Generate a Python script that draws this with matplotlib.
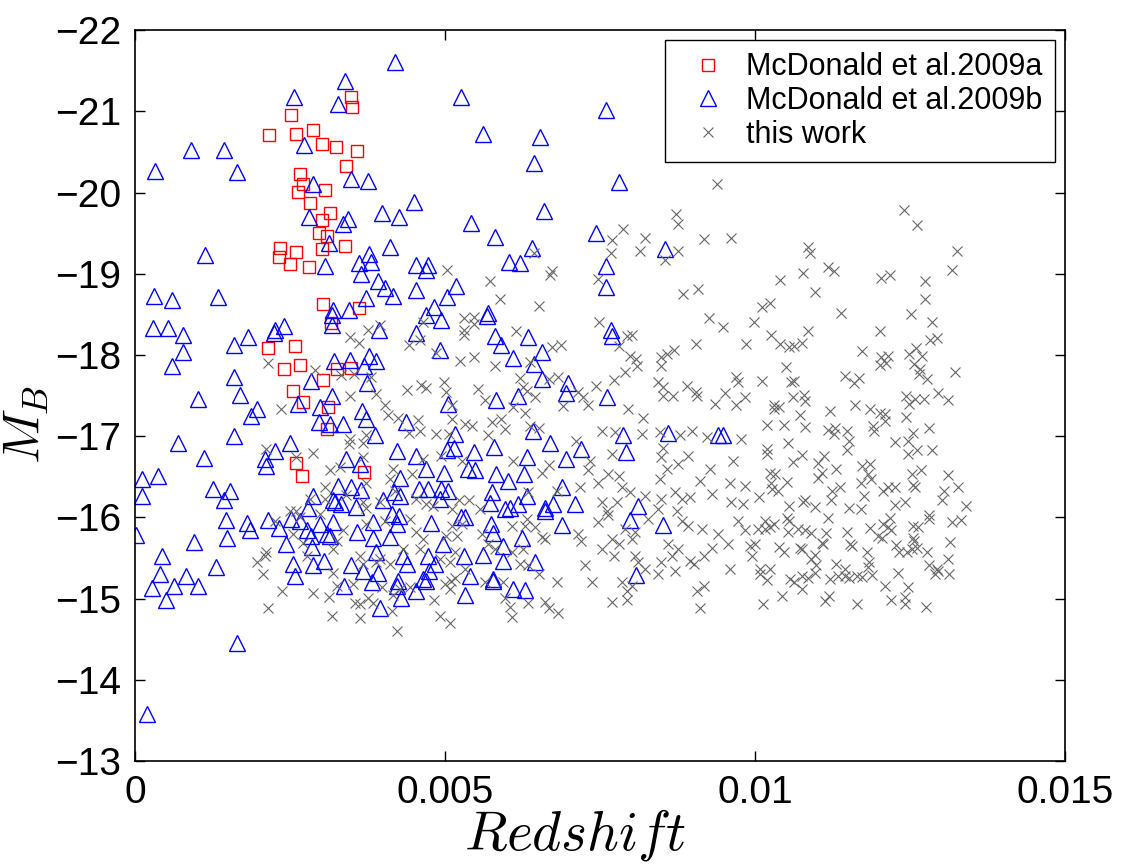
import numpy as np
import matplotlib
matplotlib.use("Agg")
import matplotlib.pyplot as plt

plt.rcParams['font.family'] = ['Liberation Sans', 'DejaVu Sans']
plt.rcParams['mathtext.fontset'] = 'cm'

# McDonald et al. 2009a (redshift in units of 1e-3, M_B)
sq_z = [3.49, 3.50, 2.52, 2.16, 2.60, 2.87, 3.02, 3.24, 3.58, 3.41, 2.66, 2.71, 2.63, 3.06,
        2.83, 3.14, 3.02, 2.96, 3.10, 2.34, 2.33, 2.59, 2.50, 2.80, 3.01, 3.39, 3.04, 3.61,
        3.16, 2.15, 2.58, 2.41, 2.66, 3.25, 3.49, 3.04, 2.55, 2.71, 3.11, 3.09, 2.60, 2.70, 3.70]
sq_m = [-21.18, -21.05, -20.95, -20.71, -20.72, -20.77, -20.60, -20.56, -20.51, -20.33, -20.23,
        -20.10, -20.01, -20.03, -19.87, -19.75, -19.66, -19.50, -19.46, -19.32, -19.21, -19.27,
        -19.12, -19.08, -19.30, -19.34, -18.63, -18.58, -18.39, -18.08, -18.11, -17.83, -17.88,
        -17.83, -17.84, -17.69, -17.56, -17.42, -17.36, -17.09, -16.67, -16.51, -16.56]

# McDonald et al. 2009b
tri = [(4.20, -21.61), (3.39, -21.37), (2.57, -21.17), (3.27, -21.09), (0.91, -20.52), (1.44, -20.52),
       (0.33, -20.26), (1.65, -20.25), (2.72, -20.59), (2.87, -20.10), (3.48, -20.17), (3.76, -20.14),
       (4.50, -19.88), (3.99, -19.75), (4.25, -19.70), (2.80, -19.70), (3.44, -19.67),
       (5.25, -21.18), (7.60, -21.01), (5.62, -20.72), (6.53, -20.68), (6.44, -20.36), (7.80, -20.13),
       (6.60, -19.77),
       (3.35, -19.61), (1.13, -19.23), (3.13, -19.38), (3.06, -19.10), (3.77, -19.24), (4.11, -19.33),
       (3.62, -19.13), (3.80, -19.15), (3.64, -19.00), (4.53, -19.11), (4.72, -19.11), (4.69, -19.04),
       (3.92, -18.91), (4.04, -18.83), (4.54, -18.80), (4.16, -18.72), (3.73, -18.70), (5.04, -18.71),
       (0.31, -18.72), (0.60, -18.68), (1.34, -18.71), (3.19, -18.55), (3.18, -18.49), (3.45, -18.55),
       (4.82, -18.59), (4.70, -18.49), (4.94, -18.43), (3.17, -18.37), (0.29, -18.33), (0.54, -18.33),
       (0.77, -18.24), (2.41, -18.36), (2.25, -18.31), (2.24, -18.27), (1.83, -18.22), (1.59, -18.12),
       (3.93, -18.31), (4.54, -18.27), (0.78, -18.04), (4.92, -18.06), (0.60, -17.87), (3.21, -17.93),
       (3.47, -17.94), (3.78, -17.99), (3.88, -17.93), (3.70, -17.87), (1.59, -17.73), (2.84, -17.68),
       (3.74, -17.66), (3.17, -17.50), (1.69, -17.51), (1.02, -17.46),
       (5.42, -19.62), (5.81, -19.45), (7.44, -19.50), (6.41, -19.32), (6.03, -19.15), (6.21, -19.13),
       (8.55, -19.30), (7.60, -19.09), (5.18, -18.85), (7.60, -18.84), (5.69, -18.52), (5.67, -18.48),
       (7.67, -18.31), (7.70, -18.23), (5.81, -18.23), (5.91, -18.12), (6.34, -18.22), (6.57, -18.04),
       (6.10, -17.96), (6.44, -17.89), (6.56, -17.71), (6.99, -17.66), (6.95, -17.53), (6.17, -17.50),
       (5.82, -17.45), (7.61, -17.48),
       (1.87, -17.25), (1.96, -17.34), (2.63, -17.40), (2.98, -17.36), (2.97, -17.18), (3.15, -17.15),
       (3.36, -17.15), (3.66, -17.31), (3.72, -17.21), (4.37, -17.18), (5.05, -17.40), (0.70, -16.92),
       (1.60, -17.00), (2.50, -16.92), (2.25, -16.82), (1.12, -16.73), (2.10, -16.72), (2.12, -16.63),
       (3.87, -17.01), (4.23, -16.82), (4.53, -16.76), (3.40, -16.72), (3.63, -16.66), (4.70, -16.60),
       (4.99, -16.55), (4.27, -16.49), (0.12, -16.47), (0.37, -16.51), (0.12, -16.26), (1.25, -16.35),
       (1.54, -16.33), (1.44, -16.22), (2.87, -16.26), (3.28, -16.39), (3.49, -16.37), (3.64, -16.34),
       (3.20, -16.22), (3.33, -16.17), (3.22, -16.19), (2.79, -16.12), (3.57, -16.13), (4.00, -16.21),
       (4.18, -16.31), (4.27, -16.27), (4.58, -16.35), (4.73, -16.35), (4.93, -16.35), (5.05, -16.33),
       (4.92, -16.23), (4.15, -16.04), (4.26, -16.02), (4.23, -15.92), (3.84, -15.94), (4.78, -15.93),
       (1.46, -15.97), (1.80, -15.93), (1.86, -15.85), (2.15, -15.97), (2.32, -15.87), (2.52, -15.98),
       (2.66, -15.96), (2.98, -15.92), (3.20, -15.94), (2.78, -15.85), (2.84, -15.77), (3.10, -15.80),
       (3.15, -15.77), (3.58, -15.82), (3.84, -15.75), (4.12, -15.76), (0.02, -15.78), (0.95, -15.70),
       (1.49, -15.75), (2.44, -15.67), (2.85, -15.64), (3.88, -15.58), (4.33, -15.53), (4.73, -15.53),
       (4.97, -15.67), (0.44, -15.53), (2.55, -15.43), (2.87, -15.41), (3.05, -15.47), (3.48, -15.41),
       (3.68, -15.34), (3.92, -15.32), (4.38, -15.43), (4.84, -15.43), (4.74, -15.34), (1.31, -15.39),
       (0.40, -15.30), (0.83, -15.28), (2.58, -15.28), (4.24, -15.22), (4.65, -15.24),
       (5.16, -17.03), (6.42, -17.06), (6.69, -16.92), (7.87, -17.02), (8.59, -17.04), (9.41, -17.01),
       (9.49, -17.01), (5.15, -16.86), (5.03, -16.83), (5.47, -16.81), (5.79, -16.87), (7.19, -16.84),
       (6.95, -16.72), (6.32, -16.74), (7.92, -16.80), (5.37, -16.60), (5.49, -16.59), (5.82, -16.54),
       (6.27, -16.53), (6.02, -16.45), (5.75, -16.31), (6.89, -16.38), (6.32, -16.26), (5.73, -16.18),
       (5.97, -16.10), (6.05, -16.12), (6.18, -16.16), (6.61, -16.12), (6.74, -16.16), (7.09, -16.17),
       (6.61, -16.08), (8.11, -16.14), (5.26, -16.01), (5.33, -16.01), (7.98, -15.97), (8.51, -15.91),
       (6.89, -15.91), (5.74, -15.92), (5.78, -15.81), (6.24, -15.75), (5.94, -15.65), (5.31, -15.53),
       (5.61, -15.54), (5.94, -15.47), (6.45, -15.45), (5.40, -15.28), (5.78, -15.24), (8.08, -15.29),
       (0.28, -15.13), (0.63, -15.16), (1.02, -15.16), (0.50, -14.98), (1.64, -14.46), (0.19, -13.58),
       (3.37, -15.16), (3.82, -15.20), (3.95, -14.88), (4.23, -15.16), (4.29, -15.01), (4.54, -15.09),
       (4.69, -15.22), (5.33, -15.05), (5.77, -15.22), (6.09, -15.12), (6.29, -15.11)]
tri_z = [p[0] for p in tri]
tri_m = [p[1] for p in tri]

# this work
cross = [(9.39, -20.10), (8.72, -19.73), (12.40, -19.78),
         (5.03, -19.04), (3.95, -18.37), (3.76, -18.31), (3.47, -18.22), (3.61, -18.15), (4.42, -18.12),
         (4.59, -18.18), (4.65, -18.41), (4.86, -18.02), (2.15, -17.90), (2.90, -17.81), (3.33, -17.75),
         (3.54, -17.77), (3.81, -17.73), (3.47, -17.50), (3.88, -17.52), (4.38, -17.57), (4.62, -17.63),
         (4.70, -17.59), (4.98, -17.67), (5.02, -17.55),
         (8.75, -19.61), (7.87, -19.55), (7.70, -19.42), (8.22, -19.44), (7.67, -19.26), (8.15, -19.28),
         (8.76, -19.28), (8.55, -19.17), (9.18, -19.43), (9.62, -19.44), (6.44, -19.25), (6.72, -19.03),
         (6.70, -18.99), (7.47, -18.94), (5.73, -18.91), (5.88, -18.69), (6.51, -18.60), (8.84, -18.75),
         (9.08, -18.81), (10.11, -18.59), (9.25, -18.45), (9.48, -18.34), (9.98, -18.41), (7.48, -18.40),
         (8.01, -18.24), (7.93, -18.23), (7.80, -18.11), (5.30, -18.45), (5.47, -18.47), (5.30, -18.31),
         (5.46, -18.38), (5.30, -18.24), (6.15, -18.30), (6.72, -18.10), (6.87, -18.12), (9.05, -18.14),
         (9.85, -18.13), (5.24, -17.92), (5.47, -17.97), (5.81, -17.87), (6.37, -17.91), (7.98, -17.99),
         (8.08, -17.95), (8.09, -17.86), (7.90, -17.79), (8.49, -17.97), (8.58, -18.01), (8.70, -18.06),
         (8.49, -17.87), (7.73, -17.69), (7.43, -17.62), (8.44, -17.67), (8.52, -17.61), (8.90, -17.62),
         (9.04, -17.54), (9.52, -17.53), (9.69, -17.73), (9.72, -17.67), (10.11, -17.68), (9.84, -17.48),
         (5.53, -17.58), (6.21, -17.72), (6.25, -17.61), (6.32, -17.56), (6.68, -17.71), (6.83, -17.73),
         (7.15, -17.54), (7.23, -17.48), (8.52, -17.50), (8.68, -17.50), (9.06, -17.50),
         (12.62, -19.60), (10.86, -19.33), (10.88, -19.25), (10.77, -19.01), (10.40, -18.92), (11.17, -19.08),
         (11.28, -19.03), (10.96, -18.77), (12.03, -18.95), (12.18, -18.99), (12.74, -18.91), (13.25, -19.28),
         (13.17, -19.05), (12.74, -18.69), (10.24, -18.64), (11.39, -18.52), (12.51, -18.51), (12.86, -18.40),
         (10.26, -18.25), (10.86, -18.29), (12.01, -18.29), (10.40, -18.13), (10.54, -18.10), (10.63, -18.11),
         (10.75, -18.15), (12.82, -18.18), (12.93, -18.21), (11.73, -18.05), (12.03, -17.97), (12.14, -17.99),
         (12.01, -17.88), (12.11, -17.90), (12.48, -18.01), (12.60, -18.08), (12.69, -17.99), (12.57, -17.89),
         (12.66, -17.83), (12.65, -17.76), (12.78, -17.71), (13.23, -17.79), (10.50, -17.85), (10.58, -17.67),
         (10.63, -17.68), (11.45, -17.74), (11.59, -17.66), (11.67, -17.72), (10.61, -17.48), (10.79, -17.51),
         (12.43, -17.49), (12.58, -17.46), (12.73, -17.46), (12.95, -17.53), (13.12, -17.45),
         (2.36, -17.34), (4.03, -17.38), (4.08, -17.26), (4.24, -17.23), (4.57, -17.20), (4.42, -17.04),
         (4.60, -17.07), (4.86, -17.03), (5.07, -17.03), (3.46, -16.97), (3.45, -16.90), (3.68, -16.92),
         (3.73, -17.01), (2.12, -16.84), (2.60, -16.74), (2.87, -16.79), (3.14, -16.58), (3.30, -16.62),
         (3.68, -16.75), (4.16, -16.60), (4.11, -16.47), (4.46, -16.53), (4.65, -16.72), (4.94, -16.76),
         (3.73, -16.43), (3.06, -16.38), (2.82, -16.23), (3.06, -16.23), (3.41, -16.28), (3.68, -16.19),
         (3.73, -16.12), (3.95, -16.19), (4.19, -16.33), (4.54, -16.23), (4.70, -16.17), (4.81, -16.14),
         (2.50, -16.08), (2.60, -16.08), (2.66, -16.00), (2.25, -15.96), (2.98, -16.04), (3.36, -15.84),
         (3.25, -15.71), (3.73, -15.92), (4.03, -15.96), (4.43, -15.98), (4.54, -15.82), (4.65, -15.73),
         (5.02, -15.77), (2.55, -15.80), (2.71, -15.69), (2.12, -15.57), (2.09, -15.53), (1.96, -15.45),
         (2.07, -15.30), (2.77, -15.53), (3.20, -15.61), (3.63, -15.53), (3.68, -15.43), (3.89, -15.45),
         (3.95, -15.49), (4.11, -15.43), (4.32, -15.61), (4.59, -15.61), (4.92, -15.49), (5.08, -15.45),
         (3.20, -15.32),
         (5.11, -17.38), (5.65, -17.44), (6.10, -17.36), (6.29, -17.29), (6.45, -17.48), (6.91, -17.37),
         (7.31, -17.38), (7.95, -17.33), (8.20, -17.22), (9.35, -17.40), (9.70, -17.38),
         (5.32, -17.15), (5.43, -17.13), (5.75, -17.17), (5.91, -17.21), (5.97, -17.09), (6.37, -17.13),
         (6.51, -17.10), (5.11, -17.21), (5.70, -17.01), (7.53, -17.07), (7.74, -17.05), (8.17, -17.03),
         (8.47, -17.05), (8.79, -17.01), (8.98, -17.07), (9.22, -16.99), (9.78, -16.97),
         (5.27, -16.70), (6.10, -16.70), (6.56, -16.55), (6.67, -16.64), (7.12, -16.94), (7.34, -16.70),
         (7.31, -16.58), (7.69, -16.78), (7.63, -16.53), (7.80, -16.51), (8.52, -16.86), (8.49, -16.74),
         (8.92, -16.76), (8.58, -16.60), (8.76, -16.66), (9.11, -16.45), (9.27, -16.60), (9.65, -16.70),
         (9.60, -16.43), (9.84, -16.39), (8.47, -16.47),
         (5.22, -16.21), (5.39, -16.22), (5.56, -16.10), (5.11, -16.10), (6.34, -16.31), (6.80, -16.33),
         (7.18, -16.37), (7.47, -16.43), (7.85, -16.37), (7.98, -16.31), (8.23, -16.27), (7.53, -16.19),
         (7.78, -16.19), (7.61, -16.08), (7.63, -16.03), (8.49, -16.23), (8.71, -16.31), (8.82, -16.23),
         (8.95, -16.25), (9.30, -16.29), (9.62, -16.19), (9.81, -16.16),
         (5.11, -15.90), (5.27, -15.92), (5.19, -15.77), (5.59, -15.80), (6.08, -15.90), (6.32, -15.98),
         (6.29, -15.90), (6.45, -15.88), (6.56, -15.76), (6.61, -15.73), (7.15, -15.80), (7.20, -15.71),
         (7.47, -15.94), (7.69, -15.73), (7.90, -15.86), (8.01, -15.73), (8.06, -15.82), (8.28, -15.98),
         (8.44, -16.10), (8.74, -16.08), (8.82, -15.96), (8.92, -15.90), (9.14, -15.86), (9.41, -15.80),
         (9.73, -15.96), (9.84, -15.84), (10.05, -15.86), (10.16, -15.86),
         (5.16, -15.57), (5.32, -15.36), (5.70, -15.67), (5.81, -15.61), (6.08, -15.57), (6.26, -15.61),
         (6.34, -15.41), (6.51, -15.30), (6.21, -15.43), (7.26, -15.41), (7.53, -15.61), (7.72, -15.53),
         (7.80, -15.67), (8.06, -15.53), (8.23, -15.36), (8.49, -15.45), (8.60, -15.67), (8.66, -15.53),
         (8.76, -15.61), (8.95, -15.47), (9.01, -15.43), (9.17, -15.53), (9.30, -15.63), (9.57, -15.67),
         (9.60, -15.36), (9.92, -15.65), (9.95, -15.53), (10.08, -15.36), (8.44, -15.30), (8.71, -15.34),
         (8.12, -15.45),
         (10.80, -17.43), (10.30, -17.38), (10.38, -17.36), (10.30, -17.33), (10.73, -17.26), (11.21, -17.31),
         (11.61, -17.38), (11.85, -17.33), (12.02, -17.29), (12.10, -17.27), (12.09, -17.19), (12.48, -17.40),
         (12.43, -17.24), (10.19, -17.14), (10.47, -17.14), (10.81, -17.11), (11.17, -17.08), (11.29, -17.10),
         (11.28, -17.03), (11.49, -17.06), (11.52, -16.94), (11.49, -16.83), (11.91, -17.13), (11.92, -17.07),
         (12.26, -16.93), (12.47, -16.94), (12.55, -17.04), (12.81, -17.10), (12.62, -16.83), (12.85, -16.83),
         (12.47, -16.78), (10.53, -16.92), (10.19, -16.84), (10.20, -16.78), (10.75, -16.77), (10.62, -16.68),
         (11.12, -16.76), (11.01, -16.67), (11.31, -16.60), (11.72, -16.63), (11.85, -16.66), (11.83, -16.53),
         (11.87, -16.47), (11.71, -16.42), (10.24, -16.55), (10.32, -16.53), (10.51, -16.44), (10.26, -16.43),
         (10.27, -16.35), (10.37, -16.33), (10.06, -16.25), (11.02, -16.49), (11.08, -16.55), (11.37, -16.38),
         (11.24, -16.32), (11.23, -16.21), (11.76, -16.27), (12.07, -16.33), (12.15, -16.37), (12.26, -16.37),
         (12.53, -16.53), (12.67, -16.59), (12.55, -16.40), (12.58, -16.38), (13.12, -16.52), (13.28, -16.37),
         (13.04, -16.32), (13.01, -16.22), (13.41, -16.14), (10.54, -16.14), (10.78, -16.19), (10.81, -16.21),
         (10.96, -16.13), (11.18, -15.99), (11.52, -16.12), (11.71, -16.10), (12.26, -16.15), (12.42, -16.19),
         (12.80, -16.03), (12.81, -15.98), (13.17, -15.95), (13.32, -15.97), (10.16, -15.96), (10.31, -15.92),
         (10.24, -15.88), (10.51, -15.99), (10.54, -15.96), (10.53, -15.82), (10.70, -15.86), (10.81, -15.85),
         (10.91, -15.81), (11.15, -15.81), (11.08, -15.69), (11.10, -15.67), (11.49, -15.82), (11.53, -15.67),
         (11.56, -15.65), (11.85, -15.87), (11.99, -15.77), (12.04, -15.75), (12.07, -15.92), (12.15, -15.88),
         (12.18, -15.99), (12.20, -15.85), (12.55, -15.90), (12.63, -15.88), (12.55, -15.75), (12.57, -15.71),
         (12.61, -15.63), (12.78, -15.58), (12.53, -15.61), (12.28, -15.66), (12.32, -15.57), (12.45, -15.57),
         (13.15, -15.70), (13.12, -15.49), (13.13, -15.31), (10.00, -15.67), (10.38, -15.64), (10.46, -15.57),
         (10.75, -15.61), (10.73, -15.63), (10.90, -15.49), (10.97, -15.54), (10.99, -15.41), (10.96, -15.32),
         (10.86, -15.26), (11.30, -15.43), (11.45, -15.36), (11.34, -15.28), (11.80, -15.57), (11.84, -15.45),
         (11.83, -15.39), (11.88, -15.29), (11.64, -15.28), (12.31, -15.32), (12.80, -15.41), (12.93, -15.36),
         (12.90, -15.30), (12.95, -15.34), (10.08, -15.30), (10.24, -15.36), (10.56, -15.24), (10.75, -15.28),
         (11.21, -15.24), (11.45, -15.28), (11.51, -15.26),
         (2.14, -14.89), (2.37, -15.10), (2.87, -15.07), (3.13, -15.02), (3.17, -14.79), (3.25, -15.16),
         (3.52, -15.18), (3.55, -14.95), (3.63, -14.93), (3.63, -14.76), (3.76, -15.01), (3.84, -14.95),
         (3.98, -15.14), (4.14, -14.85), (4.22, -14.60), (4.16, -15.05), (4.27, -15.12), (4.43, -15.14),
         (4.82, -14.98), (4.92, -14.79), (5.08, -14.70), (5.00, -15.18), (5.10, -15.22),
         (5.08, -15.12), (5.16, -15.26), (5.65, -15.21), (5.94, -15.21), (5.97, -15.01), (6.05, -14.90),
         (6.08, -14.77), (6.34, -14.95), (6.61, -14.96), (6.67, -14.89), (6.83, -14.83), (6.81, -15.21),
         (7.37, -15.21), (7.85, -15.21), (7.69, -14.96), (7.93, -15.09), (7.93, -14.98), (8.01, -15.16),
         (9.06, -15.10), (9.18, -15.16), (9.11, -14.89),
         (10.19, -15.23), (10.63, -15.20), (10.75, -15.12), (11.73, -15.27), (12.10, -15.16), (12.47, -15.14),
         (10.13, -14.94), (10.43, -15.03), (11.13, -14.97), (11.19, -15.03), (11.65, -14.93), (12.20, -14.99),
         (12.42, -15.02), (12.42, -14.93), (12.75, -14.90)]
cross_z = [p[0] for p in cross]
cross_m = [p[1] for p in cross]

labels = ['McDonald et al.2009a', 'McDonald et al.2009b', 'this work']
xticks = [0, 0.005, 0.01, 0.015]
xticklabels = ['0', '0.005', '0.01', '0.015']
yticks = list(range(-22, -12))

fig = plt.figure(figsize=(11.25, 8.65), dpi=100)
ax = fig.add_axes([0.12, 0.12, 0.8267, 0.8453])

ax.plot(np.array(sq_z) * 1e-3, sq_m, 's', ms=8, mfc='none', mec='red', mew=1.0, label=labels[0])
ax.plot(np.array(tri_z) * 1e-3, tri_m, '^', ms=11, mfc='none', mec='blue', mew=1.0, label=labels[1])
ax.plot(np.array(cross_z) * 1e-3, cross_m, 'x', ms=6.5, mec='#666666', mew=0.8, label=labels[2])

ax.set_xlim(0, 0.015)
ax.set_ylim(-13, -22)
ax.set_xticks(xticks)
ax.set_xticklabels(xticklabels)
ax.set_yticks(yticks)
ax.set_yticklabels(['\u2212%d' % abs(v) for v in yticks])
ax.tick_params(direction='in', length=7, width=1, top=True, right=True, labelsize=28)
ax.tick_params(axis='x', pad=10)
ax.tick_params(axis='y', pad=10)
for s in ax.spines.values():
    s.set_linewidth(1.2)

ax.set_xlabel('$Redshift$', fontsize=40)
ax.xaxis.set_label_coords(0.473, -0.062)
ax.set_ylabel('$M_B$', fontsize=37)
ax.yaxis.set_label_coords(-0.09, 0.46)

leg = ax.legend(loc='upper right', fontsize=22, fancybox=False, edgecolor='black', framealpha=1,
                handlelength=2.0, handletextpad=0.25, labelspacing=0.12, borderaxespad=0.33, borderpad=0.4)
leg.get_frame().set_linewidth(1.0)

fig.savefig('out.png', dpi=100)
